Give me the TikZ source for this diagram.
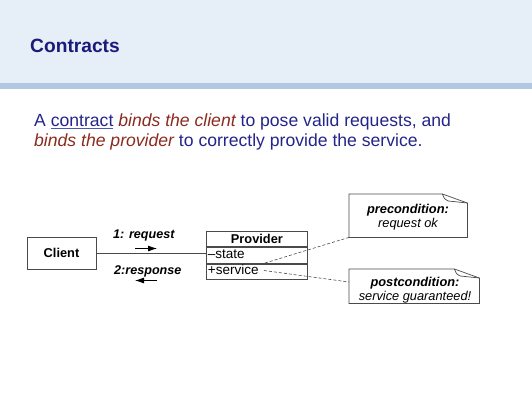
\documentclass[tikz,border=0pt]{standalone}
\usepackage{fontspec}
\setmainfont{Liberation Sans}
\usetikzlibrary{arrows.meta,calc,backgrounds}
\definecolor{bandbg}{HTML}{E6EEF7}
\definecolor{bandline}{HTML}{B1C8E0}
\definecolor{titleblue}{HTML}{1A1A7C}
\definecolor{bodyblue}{HTML}{24248A}
\definecolor{emred}{HTML}{8B2A1E}
\definecolor{ulblue}{HTML}{4A5AB0}
\definecolor{umlgray}{HTML}{4A4A4A}
\newcommand{\emr}[1]{\textcolor{emred}{\itshape #1}}
\begin{document}
\begin{tikzpicture}[x=1pt,y=-1pt,
  umlbox/.style={draw=umlgray,line width=0.8pt,fill=white,inner sep=0pt},
  boldlbl/.style={font=\fontsize{12.8}{15}\selectfont\bfseries},
  attr/.style={font=\fontsize{13.5}{15}\selectfont,text height=9.5pt,text depth=3pt,
               inner xsep=1.5pt,text width=98pt,align=left,minimum width=101pt},
  msglbl/.style={font=\fontsize{12.6}{15}\selectfont\bfseries\itshape,anchor=base west,inner sep=0pt},
  notebody/.style={inner sep=0pt,minimum width=#1},
  notetext/.style={inner sep=0pt,anchor=base,font=\fontsize{12.8}{14}\selectfont\itshape},
  noteline/.style={draw=umlgray,line width=0.7pt},
  msg/.style={line width=0.8pt,-{Latex[length=9pt,width=6pt]}},
  tie/.style={draw=umlgray,dash pattern=on 3pt off 2pt,line width=0.6pt}]
\useasboundingbox (0,0) rectangle (532,400);
% header band
\fill[bandbg] (0,0) rectangle (532,83);
\fill[bandline] (0,83) rectangle (532,89);
\node[anchor=base west,inner sep=0pt,text=titleblue,font=\fontsize{19.2}{23}\selectfont\bfseries] (title) at (30,52) {Contracts};
% statement
\node[anchor=base west,inner sep=0pt,align=left,text=bodyblue,font=\fontsize{17.6}{19.5}\selectfont] (stmt) at (34,146)
  {A \textcolor{ulblue}{\underline{\textcolor{bodyblue}{contract}}} \emr{binds the client} to pose valid requests, and\\
   \emr{binds the provider} to correctly provide the service.};
% client
\node[umlbox,boldlbl,minimum width=69pt,minimum height=32pt] (client) at (61.5,253) {Client};
% provider class
\node[umlbox,boldlbl,anchor=north west,minimum width=101pt,minimum height=15pt] (prov) at (206,231) {Provider};
\node[umlbox,attr,anchor=north west,minimum height=16pt] (pstate) at (prov.south west) {--state};
\node[umlbox,attr,anchor=north west,minimum height=15pt] (pservice) at (pstate.south west) {+service};
\draw[umlgray,line width=0.8pt] (client.east) -- (client.east -| pstate.west);
% messages
\node[msglbl] (req) at (113,238) {1: request};
\coordinate (reqa) at (135,248.5);
\coordinate (reqb) at (157,248.5);
\draw[msg] (reqa) -- (reqb);
\node[msglbl] (resp) at (114,274) {2:response};
\coordinate (respa) at (157,280.5);
\coordinate (respb) at (135,280.5);
\draw[msg] (respa) -- (respb);
% notes
\node[notebody=118pt,minimum height=43pt,anchor=north west] (pre) at (349,194) {};
\node[notebody=130pt,minimum height=34pt,anchor=north west] (post) at (349,269) {};
\foreach \n in {pre,post}{
  \draw[noteline,fill=white] (\n.south west) -- (\n.north west) -- ($(\n.north east)+(-25,0)$)
     -- ($(\n.north east)+(0,9)$) -- (\n.south east) -- cycle;
  \draw[noteline] ($(\n.north east)+(-25,0)$) .. controls ($(\n.north east)+(-23,5)$) .. ($(\n.north east)+(-19,7)$)
     -- ($(\n.north east)+(0,9)$);
}
\node[notetext] (pretitle) at (408,213) {\textbf{precondition:}};
\node[notetext] (pretext) at (408,227) {request ok};
\node[notetext] (posttitle) at (415,286.5) {\textbf{postcondition:}};
\node[notetext] (posttext) at (415,300) {service guaranteed!};
% constraint ties
\coordinate (svcA) at (265,263);
\coordinate (svcB) at (264,270.5);
\draw[tie] (svcA) -- (pre.south west);
\draw[tie] (svcB) -- ($(post.north west)+(0,13)$);
\end{tikzpicture}
\end{document}
